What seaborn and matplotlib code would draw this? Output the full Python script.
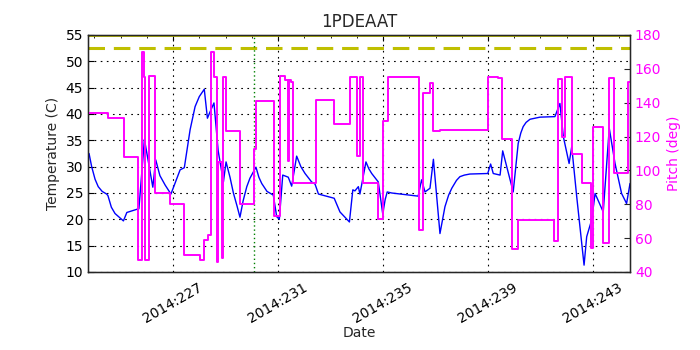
import numpy as np
import pandas as pd
import matplotlib
matplotlib.use("Agg")
import matplotlib.pyplot as plt
from matplotlib.ticker import FixedLocator, FuncFormatter, MultipleLocator
import seaborn as sns

# ---- data (day of year 2014) ----
temp_day = [223.80, 223.90, 224.03, 224.15, 224.30, 224.47, 224.52, 224.65, 224.79, 225.11,
            225.24, 225.62, 225.70, 225.91,
            226.23, 226.34, 226.50, 226.70, 226.92, 227.27, 227.43, 227.65, 227.84, 228.00,
            228.19, 228.31, 228.41, 228.56, 228.72, 228.92, 229.02, 229.17, 229.30, 229.44,
            229.55, 229.67, 229.81, 229.93, 230.06, 230.16, 230.27, 230.38, 230.58, 230.82,
            230.95, 231.05, 231.18, 231.39, 231.52, 231.71, 231.87, 232.03, 232.28, 232.41,
            232.54, 233.14, 233.36, 233.72, 233.85, 233.93, 234.06, 234.12, 234.35, 234.46,
            234.57, 234.82, 234.99, 235.08, 235.16, 235.33, 236.34, 236.47, 236.60, 236.79,
            236.92, 237.17, 237.36, 237.50, 237.62, 237.80, 237.93, 238.10, 238.31, 238.99,
            239.10, 239.20, 239.46, 239.56, 239.96, 240.15, 240.25, 240.34, 240.45, 240.60,
            240.98, 241.55, 241.74, 241.87, 242.09, 242.19, 242.38, 242.66, 242.76, 242.95,
            243.08, 243.39, 243.62, 243.84, 244.09, 244.28, 244.41]
temp_val = [32.5, 30.0, 27.6, 26.2, 25.3, 24.8, 24.5, 22.3, 21.1, 19.7,
            21.3, 21.9, 22.0, 35.2,
            26.1, 31.3, 28.3, 26.5, 24.8, 29.4, 29.8, 37.0, 41.4, 43.3,
            44.7, 39.2, 40.4, 42.1, 33.0, 27.1, 30.9, 28.0, 25.0, 22.5,
            20.4, 23.5, 26.2, 27.8, 29.0, 29.9, 28.0, 26.8, 25.3, 24.6,
            20.5, 20.0, 28.4, 28.0, 26.3, 32.0, 30.0, 28.7, 27.1, 26.7,
            24.8, 24.0, 21.4, 19.5, 25.6, 25.4, 26.2, 24.8, 30.9, 29.6,
            28.7, 27.1, 21.0, 23.7, 25.2, 25.0, 24.4, 27.5, 25.2, 25.9,
            31.4, 17.3, 22.4, 24.6, 25.9, 27.4, 28.1, 28.4, 28.6, 28.7,
            30.5, 28.7, 28.4, 33.0, 25.2, 34.4, 36.4, 37.6, 38.4, 39.0,
            39.4, 39.5, 42.0, 35.7, 30.6, 33.8, 24.3, 11.3, 16.7, 19.9,
            24.9, 21.4, 37.3, 30.6, 24.9, 23.0, 26.8]

pitch_day = [223.76, 224.51, 225.12, 225.66, 225.81, 225.91, 225.93, 226.09, 226.31, 226.90,
             227.43, 228.03, 228.18, 228.32, 228.46, 228.56, 228.66, 228.73, 228.86, 228.92,
             229.02, 229.55, 230.10, 230.16, 230.86, 231.08, 231.27, 231.37, 231.43, 231.50,
             231.58, 232.45, 233.14, 233.74, 234.00, 234.12, 234.25, 234.82, 235.01, 235.20,
             236.37, 236.51, 236.79, 236.92, 237.17, 238.99, 239.37, 239.54, 239.93, 240.15,
             241.51, 241.68, 241.81, 241.93, 242.19, 242.57, 242.92, 243.01, 243.39, 243.61,
             243.81, 244.32, 244.41]
pitch_val = [134.0, 131.0, 108.0, 47.0, 170.0, 155.0, 47.0, 155.8, 86.8, 80.2,
             50.2, 47.0, 59.0, 62.0, 170.0, 155.0, 46.0, 105.0, 48.0, 155.0,
             123.0, 80.4, 112.5, 141.2, 73.0, 155.8, 153.6, 105.8, 153.6, 152.4,
             92.8, 141.6, 127.4, 155.4, 108.5, 155.4, 92.8, 71.3, 129.4, 155.0,
             64.8, 146.0, 151.8, 123.3, 124.1, 155.4, 154.4, 118.6, 53.6, 70.7,
             58.5, 153.8, 120.0, 155.4, 109.7, 92.4, 54.0, 125.8, 57.0, 154.8,
             98.7, 152.4, 152.4]

temp_limit = 52.5
temp_max = 55.0
event_day = 230.1
year = 2014
major_days = [227, 231, 235, 239, 243]

temp_df = pd.DataFrame({"day": temp_day, "temp": temp_val})
pitch_df = pd.DataFrame({"day": pitch_day, "pitch": pitch_val})

sns.set_style("white")
plt.rcParams["font.family"] = ["DejaVu Sans"]
plt.rcParams["font.size"] = 10

fig = plt.figure(figsize=(7, 3.5), dpi=100)
ax = fig.add_axes([0.1257, 0.2229, 0.7743, 0.6771])

sns.lineplot(data=temp_df, x="day", y="temp", ax=ax, color="b", lw=1.0,
             estimator=None, sort=False)
ax.axhline(temp_limit, color="y", lw=2.2, ls=(0, (5.4, 2.9)))
ax.axhline(temp_max, color="y", lw=2.0)
ax.axvline(event_day, color="g", lw=1.0, ls=(0, (1, 2)))

ax.set_xlim(223.76, 244.41)
ax.set_ylim(10, 55)
ax.yaxis.set_major_locator(MultipleLocator(5))
ax.xaxis.set_major_locator(FixedLocator(major_days))
ax.xaxis.set_minor_locator(MultipleLocator(1))
ax.xaxis.set_major_formatter(FuncFormatter(lambda v, p: f"{year}:{int(round(v))}"))
ax.grid(True, which="major", color="k", ls=(0, (1.5, 4)), lw=0.8)
ax.tick_params(axis="both", which="both", direction="in", top=True, labelsize=10, colors="k")
ax.tick_params(axis="both", which="major", length=4)
ax.tick_params(axis="x", which="minor", length=2)
ax.tick_params(axis="x", which="major", pad=6)
for lbl in ax.get_xticklabels():
    lbl.set_rotation(30)
    lbl.set_ha("center")
ax.set_xlabel("Date", fontsize=10, labelpad=0)
ax.set_ylabel("Temperature (C)", fontsize=10)
ax.set_title("1PDEAAT", fontsize=12)
for s in ax.spines.values():
    s.set_color("k")
    s.set_linewidth(1.0)

ax2 = ax.twinx()
sns.lineplot(data=pitch_df, x="day", y="pitch", ax=ax2, color="#ff00ff", lw=1.4,
             estimator=None, sort=False, drawstyle="steps-post")
ax2.set_ylim(40, 180)
ax2.yaxis.set_major_locator(MultipleLocator(20))
ax2.tick_params(axis="y", direction="in", length=4, labelsize=10, labelcolor="#ff00ff")
ax2.set_ylabel("Pitch (deg)", color="#ff00ff", fontsize=10)
ax2.set_xlim(223.76, 244.41)

fig.savefig("out.png", dpi=100)
